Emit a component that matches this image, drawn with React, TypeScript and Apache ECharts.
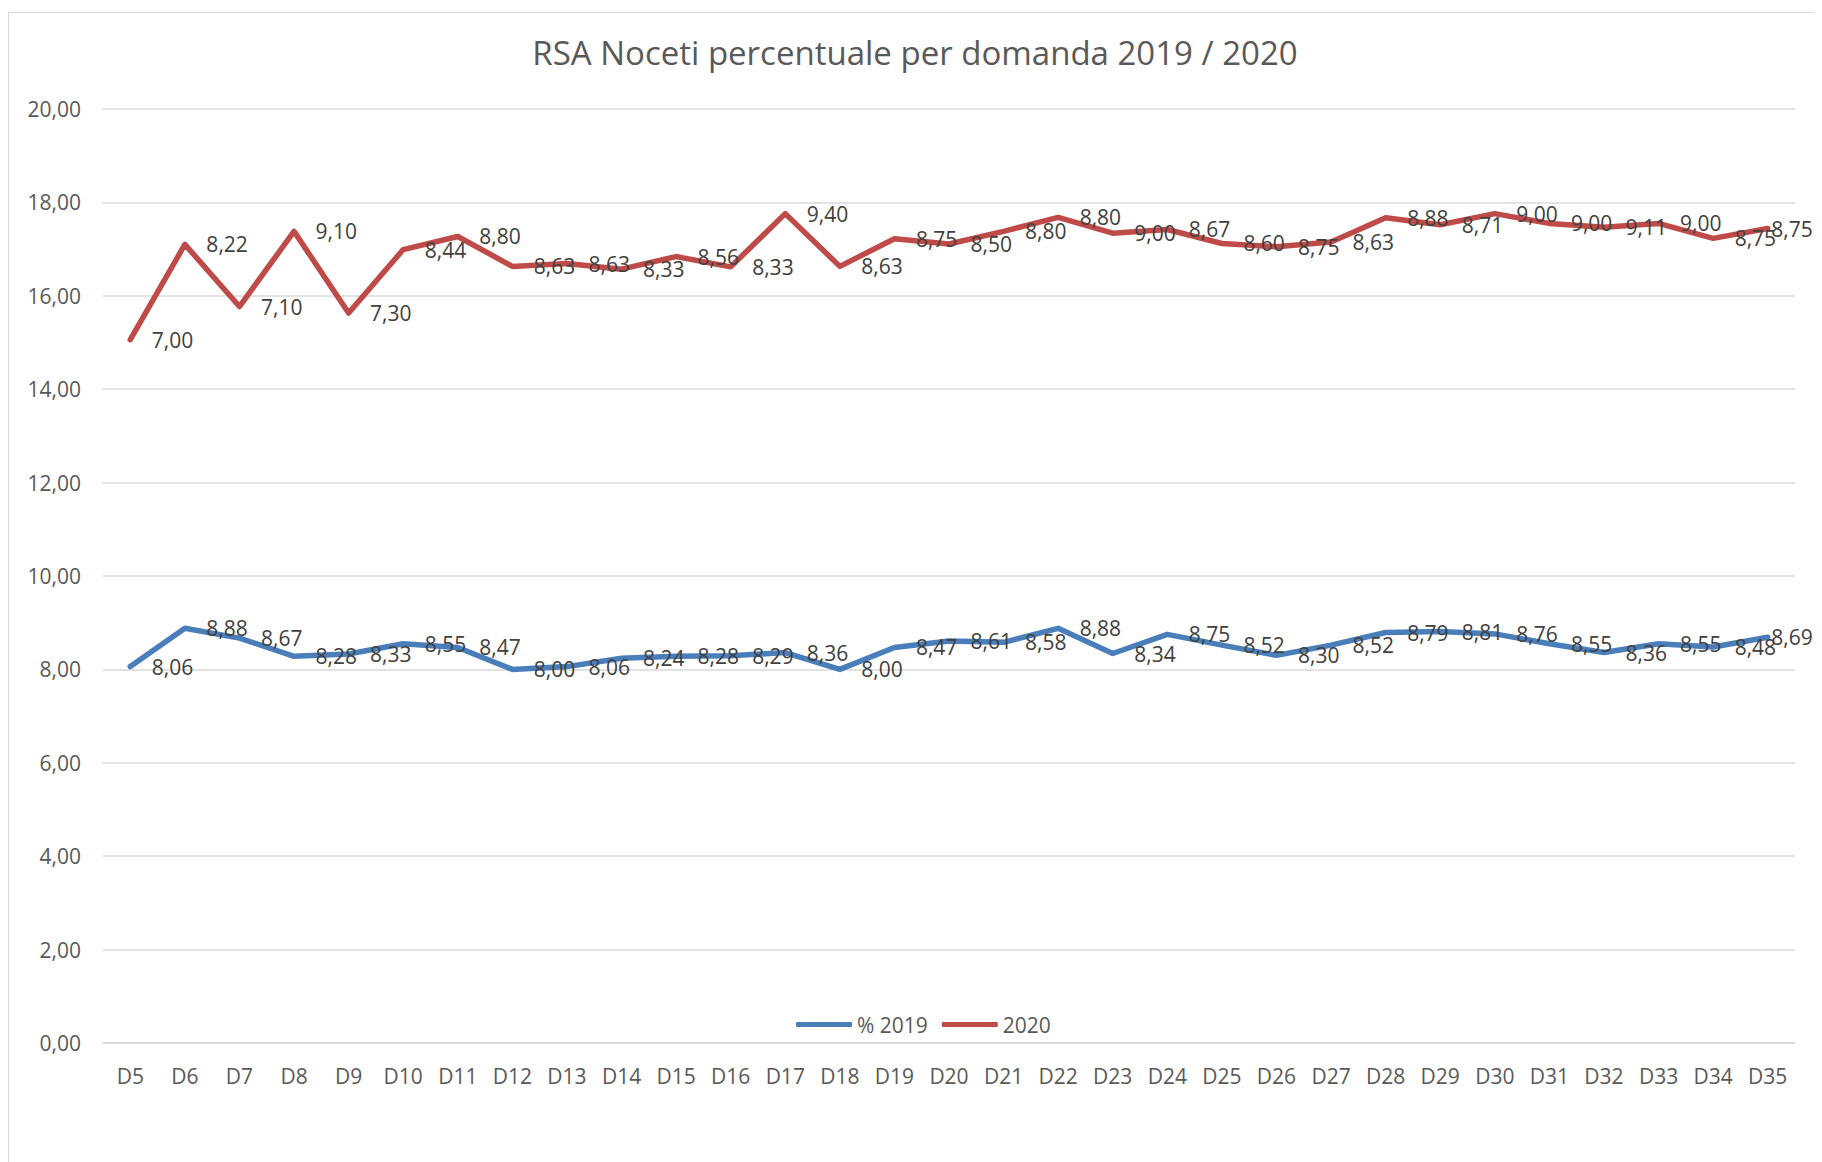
import React, { useEffect, useRef } from "react";
import * as echarts from "echarts";

const categories = ["D5","D6","D7","D8","D9","D10","D11","D12","D13","D14","D15","D16","D17","D18","D19","D20","D21","D22","D23","D24","D25","D26","D27","D28","D29","D30","D31","D32","D33","D34","D35"];
const values2019 = [8.06,8.88,8.67,8.28,8.33,8.55,8.47,8.00,8.06,8.24,8.28,8.29,8.36,8.00,8.47,8.61,8.58,8.88,8.34,8.75,8.52,8.30,8.52,8.79,8.81,8.76,8.55,8.36,8.55,8.48,8.69];
const values2020 = [7.00,8.22,7.10,9.10,7.30,8.44,8.80,8.63,8.63,8.33,8.56,8.33,9.40,8.63,8.75,8.50,8.80,8.80,9.00,8.67,8.60,8.75,8.63,8.88,8.71,9.00,9.00,9.11,9.00,8.75,8.75];
const seriesNames = ["% 2019", "2020"];
const colors = ["#4a7ebb", "#be4b48"];
const titleText = "RSA Noceti percentuale per domanda 2019 / 2020";

const FONT = "'Open Sans', sans-serif";
const fmt = (v: number) => v.toFixed(2).replace(".", ",");

export default function App() {
  const ref = useRef<HTMLDivElement>(null);
  useEffect(() => {
    if (!ref.current) return;
    const chart = echarts.init(ref.current, undefined, { renderer: "svg" });
    const labelCfg = {
      show: true,
      position: "right" as const,
      distance: 21,
      fontFamily: FONT,
      fontSize: 21,
      color: "#404040",
      formatter: (p: any) => fmt(typeof p.value === "number" ? p.value : p.data.value),
    };
    const toData = (arr: number[]) =>
      arr.map((v, i) => (i === arr.length - 1 ? { value: v, label: { distance: 3 } } : v));
    const mk = (idx: number, arr: number[]) => ({
      name: seriesNames[idx],
      type: "line",
      stack: "total",
      data: toData(arr),
      symbol: "circle",
      symbolSize: 1,
      showSymbol: true,
      lineStyle: { color: colors[idx], width: 5.5, cap: "round", join: "round" },
      itemStyle: { color: colors[idx] },
      label: labelCfg,
    });
    chart.setOption({
      animation: false,
      textStyle: { fontFamily: FONT },
      title: {
        text: titleText,
        left: "center",
        top: 23,
        textStyle: { fontFamily: FONT, fontSize: 33, fontWeight: "normal", color: "#595959" },
      },
      graphic: [
        {
          type: "rect",
          shape: { x: 0.5, y: 4.5, width: 1806, height: 1300 },
          style: { fill: "none", stroke: "#d9d9d9", lineWidth: 1 },
          silent: true,
        },
      ],
      legend: {
        bottom: 122,
        left: 783,
        icon: "roundRect",
        itemWidth: 56,
        itemHeight: 5,
        itemGap: 14,
        textStyle: { fontFamily: FONT, fontSize: 21, color: "#595959" },
        data: seriesNames,
      },
      grid: { left: 95, right: 27, top: 101, bottom: 119, containLabel: false },
      xAxis: {
        type: "category",
        data: categories,
        boundaryGap: true,
        axisLine: { lineStyle: { color: "#d9d9d9", width: 1.5 } },
        axisTick: { show: false },
        axisLabel: { fontFamily: FONT, fontSize: 21, color: "#595959", margin: 22 },
      },
      yAxis: {
        type: "value",
        min: 0,
        max: 20,
        interval: 2,
        axisLine: { show: false },
        axisTick: { show: false },
        axisLabel: { fontFamily: FONT, fontSize: 21, color: "#595959", margin: 22, formatter: (v: number) => fmt(v) },
        splitLine: { lineStyle: { color: "#d9d9d9", width: 1.5 } },
      },
      series: [mk(0, values2019), mk(1, values2020)],
    });
    return () => chart.dispose();
  }, []);
  return <div ref={ref} style={{ width: 1814, height: 1154 }} />;
}
